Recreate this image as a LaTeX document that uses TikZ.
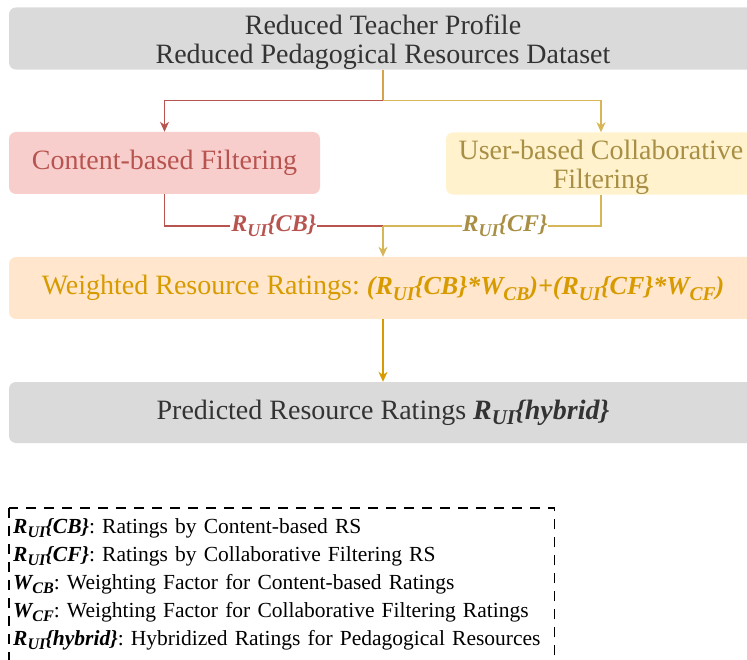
\documentclass[tikz,border=0pt]{standalone}
\usepackage{fontspec}
\setmainfont{Liberation Serif}
\usetikzlibrary{arrows.meta}
\definecolor{boxgray}{HTML}{DADADA}
\definecolor{textgray}{HTML}{333333}
\definecolor{cbfill}{HTML}{F8CECC}
\definecolor{cbred}{HTML}{B85450}
\definecolor{cffill}{HTML}{FFF2CC}
\definecolor{cfline}{HTML}{D6B656}
\definecolor{cftext}{HTML}{A88F45}
\definecolor{wfill}{HTML}{FFE6CC}
\definecolor{worange}{HTML}{D79B00}
\definecolor{stemcol}{HTML}{D8A24C}
\newcommand{\lowsub}[1]{\raisebox{-0.45ex}{\scalebox{0.75}{#1}}}
\newcommand{\Rui}[1]{{\bfseries\itshape R\lowsub{UI}\{#1\}}}
\newcommand{\Wsub}[1]{{\bfseries\itshape W\lowsub{#1}}}
\tikzset{
  block/.style={rounded corners=7pt, inner sep=0pt, minimum height=61pt, align=center,
    font=\fontsize{28}{29}\selectfont},
  link/.style={line width=1.3pt},
  tip/.style={-{Stealth[length=10pt,width=9pt,inset=3pt]}},
  rlabel/.style={fill=white, inner sep=1pt, font=\fontsize{24}{26}\selectfont},
  legendline/.style={line width=1.1pt, dash pattern=on 10pt off 8pt},
}
\begin{document}
\frenchspacing
\begin{tikzpicture}[x=1pt,y=-1pt]
\useasboundingbox (0,0) rectangle (747,660);
\clip (0,0) rectangle (747,660);
% boxes
\node[block, fill=boxgray, text=textgray, minimum width=748pt] (src) at (383,38.5)
  {\rule{0pt}{27pt}Reduced Teacher Profile\\Reduced Pedagogical Resources Dataset};
\node[block, fill=cbfill, text=cbred, minimum width=311pt, minimum height=62pt] (cb) at (164.5,163)
  {Content-based Filtering};
\node[block, fill=cffill, text=cftext, minimum width=310pt] (cf) at (601,163.5)
  {\rule{0pt}{27pt}User-based Collaborative\\Filtering};
\node[block, fill=wfill, text=worange, minimum width=748pt, minimum height=62pt] (wr) at (383,288)
  {Weighted Resource Ratings: {\fontsize{26}{29}\selectfont\bfseries\itshape (\Rui{CB}*\Wsub{CB})+(\Rui{CF}*\Wsub{CF})}};
\node[block, fill=boxgray, text=textgray, minimum width=748pt] (pr) at (383,412.5)
  {Predicted Resource Ratings \Rui{hybrid}};
% connectors
\coordinate (split) at (383,100.5);
\coordinate (merge) at (383,226);
\draw[link, stemcol] (src.south) -- (split);
\draw[link, tip, cbred] (split) -| (cb.north);
\draw[link, tip, cfline] (split) -| (cf.north);
\draw[link, cbred] (cb.south) |- node[rlabel, pos=0.75, text=cbred] {\Rui{CB}} (merge);
\draw[link, cfline] (cf.south) |- node[rlabel, pos=0.72, text=cftext] {\Rui{CF}} (merge);
\draw[link, tip, cfline] (merge) -- (wr.north);
\draw[link, tip, worange] (wr.south) -- (pr.north);
% legend
\node[anchor=north west, align=left, text width=537pt, inner xsep=4pt, inner ysep=10pt,
  font=\fontsize{21.5}{28}\selectfont] (legend) at (9,508)
  {\Rui{CB}: Ratings by Content-based RS\\
   \Rui{CF}: Ratings by Collaborative Filtering RS\\
   \Wsub{CB}: Weighting Factor for Content-based Ratings\\
   \Wsub{CF}: Weighting Factor for Collaborative Filtering Ratings\\
   \Rui{hybrid}: Hybridized Ratings for Pedagogical Resources};
\draw[legendline] (legend.north west) rectangle ([yshift=-170pt]legend.north east);
\end{tikzpicture}
\end{document}
